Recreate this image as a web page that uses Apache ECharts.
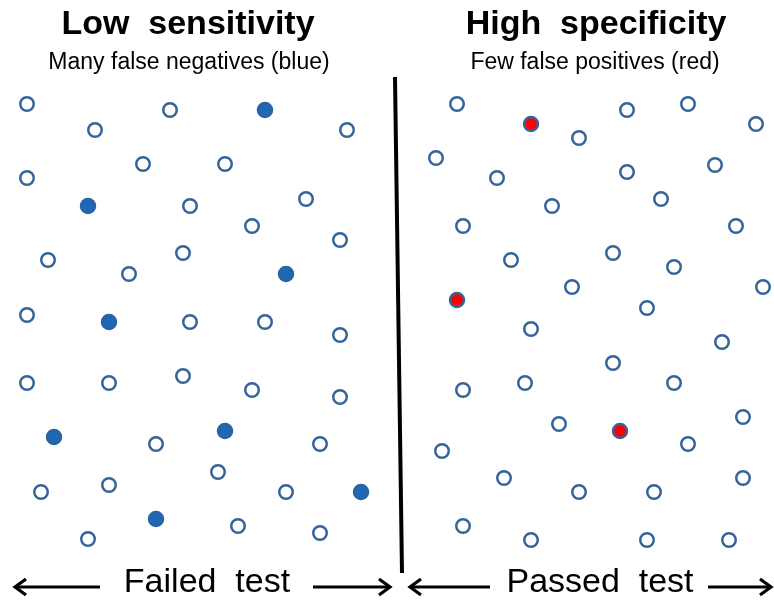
<!DOCTYPE html>
<html>
<head>
<meta charset="utf-8">
<script src="https://cdn.jsdelivr.net/npm/echarts@6/dist/echarts.min.js"></script>
<style>
html,body{margin:0;padding:0;background:#fff;}
#chart{width:774px;height:604px;}
</style>
</head>
<body>
<div id="chart"></div>
<script>
// Panel titles
const panelTitles = ["Low  sensitivity", "High  specificity"];
const panelSubtitles = ["Many false negatives (blue)", "Few false positives (red)"];
const bottomLabels = ["Failed  test", "Passed  test"];

// Left panel: test failed (true negatives hollow, false negatives filled blue)
const leftOpen = [
  [27,104],[95,130],[170,110],[347,130],[27,178],[143,164],[225,164],[190,206],
  [306,199],[252,226],[340,240],[48,260],[129,274],[183,253],[27,315],[190,322],
  [265,322],[340,335],[27,383],[109,383],[183,376],[252,390],[340,397],[156,444],
  [320,444],[41,492],[109,485],[218,472],[286,492],[88,539],[238,526],[320,533]
];
const leftFalseNeg = [
  [265,110],[88,206],[286,274],[109,322],[54,437],[225,431],[361,492],[156,519]
];

// Right panel: test passed (true positives hollow, false positives filled red)
const rightOpen = [
  [457,104],[579,138],[627,110],[688,104],[756,124],[436,158],[497,178],[627,172],
  [715,165],[552,206],[661,199],[463,226],[736,226],[511,260],[613,253],[674,267],
  [572,287],[763,287],[647,308],[531,329],[722,342],[613,363],[463,390],[525,383],
  [674,383],[743,417],[559,424],[688,444],[442,451],[504,478],[579,492],[654,492],
  [743,478],[463,526],[531,540],[647,540],[729,540]
];
const rightFalsePos = [[531,124],[457,300],[620,431]];

// Divider and arrows (in chart coordinates)
const divider = [[395,77],[402,573]];
const arrows = [
  {from:[100,587], to:[15,587]},
  {from:[313,587], to:[390,587]},
  {from:[490,587], to:[410,587]},
  {from:[708,587], to:[771,587]}
];

const chart = echarts.init(document.getElementById('chart'), null, {renderer:'canvas'});

const ring = '#35649b';
function scatter(data, fill, border, size){
  return {
    type:'scatter', data:data, symbol:'circle', symbolSize:size, silent:true,
    itemStyle:{color:fill, borderColor:border, borderWidth:2.5, opacity:1}
  };
}

function arrowSeries(a){
  const dx = a.to[0] - a.from[0];
  const dir = dx > 0 ? 1 : -1;
  const tip = a.to;
  const head = [[tip[0]-dir*11, tip[1]-8], tip, [tip[0]-dir*11, tip[1]+8]];
  return [
    {type:'line', data:[a.from, a.to], symbol:'none', silent:true,
     lineStyle:{color:'#000', width:3}},
    {type:'line', data:head, symbol:'none', silent:true,
     lineStyle:{color:'#000', width:3.2, join:'miter'}}
  ];
}

const series = [
  {type:'line', data:divider, symbol:'none', silent:true, lineStyle:{color:'#000', width:4}},
  scatter(leftOpen, '#ffffff', ring, 13.5),
  scatter(leftFalseNeg, '#1f68b6', '#2a62a3', 14),
  scatter(rightOpen, '#ffffff', ring, 13.5),
  scatter(rightFalsePos, '#ff0000', ring, 14)
];
arrows.forEach(a => arrowSeries(a).forEach(s => series.push(s)));

const font = 'Liberation Sans, Arial, sans-serif';
const graphics = [];
const titleX = [188, 596];
panelTitles.forEach((t,i)=>graphics.push({type:'text', x:titleX[i], y:42,
  style:{text:t, font:'bold 34px ' + font, fill:'#000', textAlign:'center', textVerticalAlign:'bottom'}}));
const subX = [189, 595];
panelSubtitles.forEach((t,i)=>graphics.push({type:'text', x:subX[i], y:74,
  style:{text:t, font:'23px ' + font, fill:'#000', textAlign:'center', textVerticalAlign:'bottom'}}));
const botX = [207, 600];
bottomLabels.forEach((t,i)=>graphics.push({type:'text', x:botX[i], y:600,
  style:{text:t, font:'34px ' + font, fill:'#000', textAlign:'center', textVerticalAlign:'bottom'}}));

chart.setOption({
  animation:false,
  backgroundColor:'#fff',
  grid:{left:0, right:0, top:0, bottom:0, containLabel:false},
  xAxis:{type:'value', min:0, max:774, show:false},
  yAxis:{type:'value', min:0, max:604, inverse:true, show:false},
  series:series,
  graphic:graphics
});
</script>
</body>
</html>
